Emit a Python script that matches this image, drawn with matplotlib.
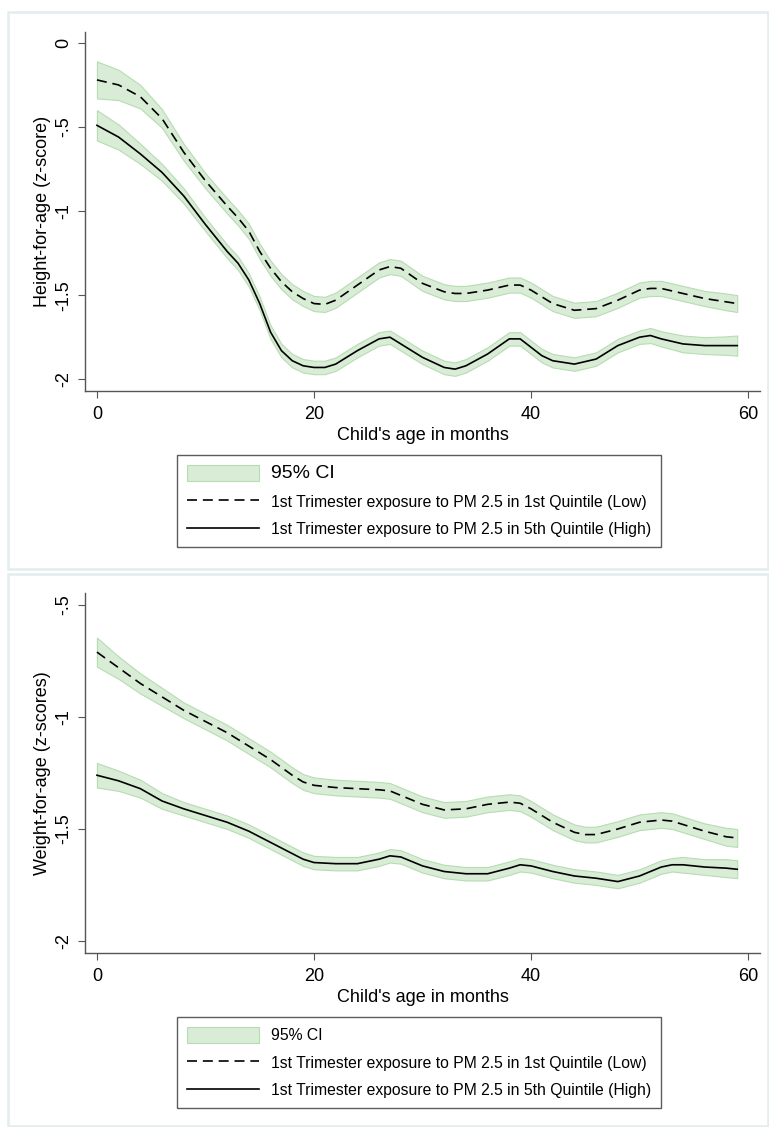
import matplotlib
matplotlib.use("Agg")
import matplotlib.pyplot as plt
import numpy as np
from matplotlib.patches import Patch, Rectangle
from matplotlib.lines import Line2D

plt.rcParams['font.family'] = ['Liberation Sans', 'DejaVu Sans']

# ---- top panel: height-for-age ----
age_top = [0, 2, 4, 6, 8, 10, 12, 13, 14, 15, 16, 17, 18, 19, 20, 21, 22, 24, 26, 27, 28,
           30, 32, 33, 34, 36, 38, 39, 40, 41, 42, 44, 46, 48, 50, 51, 52, 54, 56, 58, 59]
low_top = [-0.22, -0.25, -0.32, -0.45, -0.65, -0.82, -0.97, -1.04, -1.12, -1.24, -1.34, -1.42,
           -1.48, -1.52, -1.55, -1.555, -1.53, -1.44, -1.35, -1.33, -1.34, -1.43, -1.48, -1.49,
           -1.49, -1.47, -1.44, -1.44, -1.47, -1.51, -1.55, -1.59, -1.58, -1.53, -1.47, -1.46,
           -1.46, -1.49, -1.52, -1.54, -1.55]
high_top = [-0.49, -0.56, -0.66, -0.77, -0.91, -1.08, -1.24, -1.31, -1.41, -1.55, -1.72, -1.83,
            -1.89, -1.92, -1.93, -1.93, -1.91, -1.83, -1.76, -1.75, -1.79, -1.87, -1.93, -1.94,
            -1.92, -1.85, -1.76, -1.76, -1.81, -1.86, -1.89, -1.91, -1.88, -1.80, -1.75, -1.74,
            -1.76, -1.79, -1.80, -1.80, -1.80]
ci_low_top = [0.11, 0.09, 0.07, 0.055, 0.05, 0.045, 0.045, 0.045, 0.045, 0.045, 0.045, 0.045,
              0.045, 0.045, 0.045, 0.045, 0.045, 0.045, 0.045, 0.045, 0.045, 0.045, 0.045, 0.045,
              0.045, 0.045, 0.045, 0.045, 0.045, 0.045, 0.045, 0.045, 0.045, 0.045, 0.045, 0.045,
              0.045, 0.045, 0.045, 0.05, 0.05]
ci_high_top = [0.09, 0.075, 0.06, 0.05, 0.045, 0.04, 0.04, 0.04, 0.04, 0.04, 0.04, 0.04,
               0.04, 0.04, 0.04, 0.04, 0.04, 0.04, 0.04, 0.04, 0.04, 0.04, 0.04, 0.04,
               0.04, 0.04, 0.04, 0.04, 0.04, 0.04, 0.04, 0.04, 0.04, 0.04, 0.04, 0.045,
               0.045, 0.05, 0.05, 0.055, 0.06]

# ---- bottom panel: weight-for-age ----
age_bot = [0, 2, 4, 6, 8, 10, 12, 14, 16, 18, 19, 20, 22, 24, 26, 27, 28, 30, 32, 34, 36,
           38, 39, 40, 42, 44, 45, 46, 48, 50, 52, 53, 54, 56, 58, 59]
low_bot = [-0.71, -0.78, -0.85, -0.91, -0.97, -1.02, -1.07, -1.13, -1.19, -1.26, -1.29, -1.305,
           -1.315, -1.32, -1.325, -1.33, -1.35, -1.39, -1.415, -1.41, -1.39, -1.38, -1.385,
           -1.41, -1.47, -1.515, -1.525, -1.525, -1.50, -1.47, -1.46, -1.465, -1.48, -1.51,
           -1.535, -1.54]
high_bot = [-1.26, -1.285, -1.32, -1.375, -1.41, -1.44, -1.47, -1.51, -1.56, -1.61, -1.635,
            -1.65, -1.655, -1.655, -1.635, -1.62, -1.625, -1.665, -1.69, -1.70, -1.70, -1.675,
            -1.66, -1.665, -1.69, -1.71, -1.715, -1.72, -1.735, -1.71, -1.67, -1.66, -1.66,
            -1.67, -1.675, -1.68]
ci_low_bot = [0.065, 0.05, 0.045, 0.04, 0.035, 0.035, 0.035, 0.035, 0.035, 0.035, 0.035, 0.035,
              0.035, 0.035, 0.035, 0.035, 0.035, 0.035, 0.035, 0.035, 0.035, 0.035, 0.035, 0.035,
              0.035, 0.035, 0.035, 0.035, 0.035, 0.035, 0.035, 0.035, 0.035, 0.035, 0.04, 0.04]
ci_high_bot = [0.055, 0.045, 0.04, 0.035, 0.03, 0.03, 0.03, 0.03, 0.03, 0.03, 0.03, 0.03,
               0.03, 0.03, 0.03, 0.03, 0.03, 0.03, 0.03, 0.03, 0.03, 0.03, 0.03, 0.03,
               0.03, 0.03, 0.03, 0.03, 0.03, 0.03, 0.03, 0.03, 0.035, 0.035, 0.04, 0.04]

xticks = [0, 20, 40, 60]
yticks_top = [0, -0.5, -1, -1.5, -2]
yticklabels_top = ['0', '-.5', '-1', '-1.5', '-2']
yticks_bot = [-0.5, -1, -1.5, -2]
yticklabels_bot = ['-.5', '-1', '-1.5', '-2']

lab_low = '1st Trimester exposure to PM 2.5 in 1st Quintile (Low)'
lab_high = '1st Trimester exposure to PM 2.5 in 5th Quintile (High)'

W, H = 769, 1127
fig = plt.figure(figsize=(W / 100, H / 100), dpi=100)

band_fc = '#d8ecd6'
band_ec = '#b7dcb3'
axcol = '#555555'
dash = (0, (6, 3.5))


def px(l, t, r, b):
    return [l / W, 1 - b / H, (r - l) / W, (b - t) / H]


# panel frames
for (t, b) in [(12, 569), (574, 1126)]:
    fig.patches.append(Rectangle((8 / W, 1 - b / H), (W - 9) / W, (b - t) / H,
                                 transform=fig.transFigure, fill=False,
                                 edgecolor='#e3ecef', lw=1.8))


def panel(ax, age, low, high, cil, cih, ylim, yticks, ylabels, ylabel):
    age = np.array(age)
    for y, c in [(np.array(low), np.array(cil)), (np.array(high), np.array(cih))]:
        ax.fill_between(age, y - c, y + c, facecolor=band_fc, edgecolor=band_ec, lw=0.8)
    ax.plot(age, low, color='black', lw=1.2, ls=dash)
    ax.plot(age, high, color='black', lw=1.2)
    ax.set_xlim(-1.1, 61.1)
    ax.set_ylim(*ylim)
    ax.set_xticks(xticks)
    ax.set_yticks(yticks)
    ax.set_yticklabels(ylabels, rotation=90, va='center')
    for s in ['top', 'right']:
        ax.spines[s].set_visible(False)
    for s in ['left', 'bottom']:
        ax.spines[s].set_color(axcol)
        ax.spines[s].set_linewidth(1)
    ax.tick_params(direction='out', length=5, color=axcol, labelsize=13)
    ax.tick_params(axis='x', pad=6)
    ax.tick_params(axis='y', pad=4)
    ax.set_xlabel("Child's age in months", fontsize=13)
    ax.set_ylabel(ylabel, fontsize=13)
    ax.xaxis.set_label_coords(0.5, -0.10)
    ax.yaxis.set_label_coords(-0.05, 0.5)


ax1 = fig.add_axes(px(85, 32, 760, 391))
panel(ax1, age_top, low_top, high_top, ci_low_top, ci_high_top, (-2.07, 0.065),
      yticks_top, yticklabels_top, 'Height-for-age (z-score)')

ax2 = fig.add_axes(px(85, 593, 760, 953))
panel(ax2, age_bot, low_bot, high_bot, ci_low_bot, ci_high_bot, (-2.054, -0.446),
      yticks_bot, yticklabels_bot, 'Weight-for-age (z-scores)')

handles = [Patch(facecolor=band_fc, edgecolor=band_ec, lw=0.8),
           Line2D([], [], color='black', lw=1.2, ls=dash),
           Line2D([], [], color='black', lw=1.2)]
labels = ['95% CI', lab_low, lab_high]

for top, ci_size in [(455, 14), (1017, 11.3)]:
    leg = fig.legend(handles, labels, loc='upper left',
                     bbox_to_anchor=(177 / W, 1 - top / H), borderaxespad=0,
                     fontsize=11.3, handlelength=4.6, handleheight=1.2, handletextpad=0.75,
                     labelspacing=0.72, borderpad=0.62, frameon=True, fancybox=False)
    leg.get_frame().set_edgecolor('#333333')
    leg.get_frame().set_linewidth(1)
    leg.get_texts()[0].set_fontsize(ci_size)

fig.savefig('out.png', dpi=100, facecolor='white')
